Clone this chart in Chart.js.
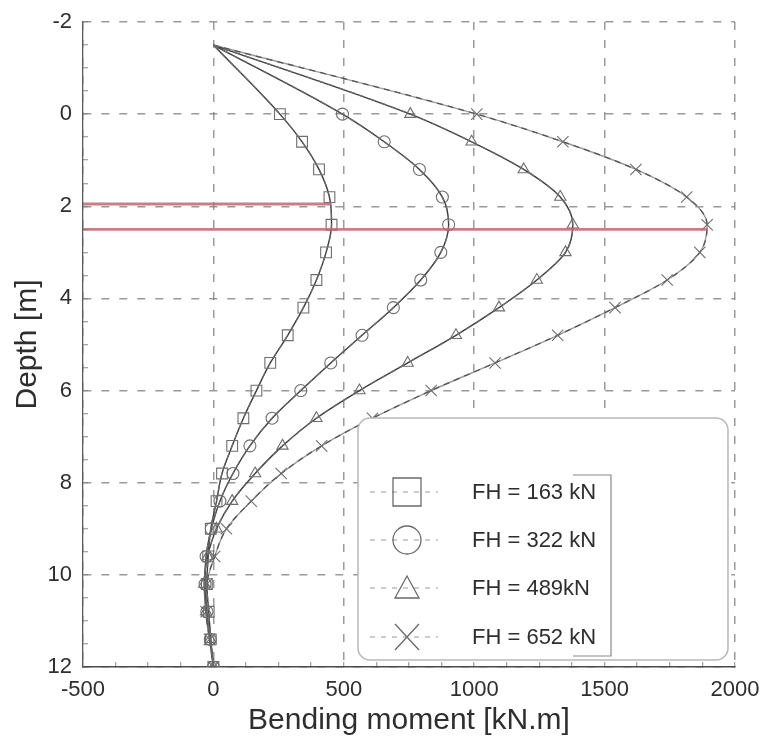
<!DOCTYPE html>
<html>
<head>
<meta charset="utf-8">
<title>Bending moment along the pile</title>
<script src="https://cdn.jsdelivr.net/npm/chart.js@4.4.1/dist/chart.umd.min.js"></script>
<style>
  html, body { margin: 0; padding: 0; background: #ffffff; }
  #wrap { width: 766px; height: 740px; }
</style>
</head>
<body>
<div id="wrap"><canvas id="chart" width="766" height="740"></canvas></div>
<script>
// Depth of each computed point [m]; the first one is the load point above ground.
const depth = [-1.5, 0, 0.6, 1.2, 1.8, 2.4, 3.0, 3.6, 4.2, 4.8, 5.4, 6.0, 6.6, 7.2, 7.8, 8.4, 9.0, 9.6, 10.2, 10.8, 11.4, 12.0];

// Bending moment [kN.m] for each horizontal load case
const moment163 = [0, 255, 340, 405, 445, 453, 432, 395, 345, 285, 218, 165, 115, 72, 33, 12, -10, -20, -25, -18, -10, 0];
const moment322 = [0, 495, 655, 790, 878, 902, 872, 795, 690, 570, 450, 335, 225, 140, 75, 25, -8, -28, -32, -25, -12, 0];
const moment489 = [0, 755, 990, 1190, 1330, 1378, 1350, 1240, 1095, 930, 745, 560, 395, 265, 160, 72, 12, -22, -35, -28, -12, 0];
const moment652 = [0, 1010, 1340, 1620, 1815, 1893, 1865, 1740, 1540, 1320, 1080, 835, 610, 415, 260, 145, 50, 5, -25, -28, -15, 0];

const seriesLabels = ['FH = 163 kN', 'FH = 322 kN', 'FH = 489kN', 'FH = 652 kN'];
const seriesMoments = [moment163, moment322, moment489, moment652];
const seriesMarkers = ['rect', 'circle', 'triangle', 'crossRot'];

// Horizontal reference lines: depth [m] and moment [kN.m] at their ends
const refDepths = [1.95, 2.5];
const refStart = [-500, -500];
const refEnd = [450, 1895];

// Axis ranges and label steps
const xRange = [-500, 2000];
const yRange = [-2, 12];
const xLabelStep = 500;
const yLabelStep = 2;
const xMinorStep = 125;
const yMinorStep = 0.5;

const FONT = '"Liberation Sans", Arial, Helvetica, sans-serif';
const TEXT = '#2e2e2e';
const GRID = 'rgba(120,120,120,0.75)';

Chart.defaults.font.family = FONT;
Chart.defaults.color = TEXT;

const toPoints = (xs, ys) => ys.map((y, i) => ({ x: xs[i], y: y }));

const datasets = [];
seriesMoments.forEach((m, i) => {
  const pts = toPoints(m, depth);
  const last = i === 3;
  // continuous curve
  datasets.push({
    label: seriesLabels[i] + ' curve',
    data: pts,
    borderColor: last ? '#9a9a9a' : '#3c3c3c',
    borderWidth: 1.4,
    pointRadius: 0,
    cubicInterpolationMode: 'monotone',
    fill: false,
    order: 2
  });
  // dashed line through the computed points with markers
  datasets.push({
    label: seriesLabels[i],
    data: pts,
    borderColor: last ? '#555555' : '#6a6a6a',
    borderWidth: 1.3,
    borderDash: [6, 5],
    cubicInterpolationMode: 'monotone',
    pointStyle: seriesMarkers[i],
    pointRadius: c => (c.dataIndex === 0 ? 0 : (seriesMarkers[i] === 'rect' ? 7.6 : seriesMarkers[i] === 'circle' ? 6 : seriesMarkers[i] === 'triangle' ? 6.5 : 8)),
    pointBorderColor: '#6e6e6e',
    pointBackgroundColor: 'rgba(0,0,0,0)',
    pointBorderWidth: 1.1,
    fill: false,
    order: 1
  });
});

refDepths.forEach((d, i) => {
  datasets.push({
    label: 'ref' + i,
    data: [{ x: refStart[i], y: d }, { x: refEnd[i], y: d }],
    borderColor: 'rgba(190,105,118,0.85)',
    borderWidth: 2.8,
    pointRadius: 0,
    tension: 0,
    fill: false,
    order: 0
  });
});

// Legend drawn inside the plot area as a rounded box
const boxLegend = {
  id: 'boxLegend',
  afterDatasetsDraw(chart) {
    const { ctx, chartArea: a } = chart;
    const left = a.left + 275, top = a.top + 396;
    const right = a.right - 7, bottom = a.bottom - 7;
    ctx.save();
    ctx.beginPath();
    ctx.roundRect(left, top, right - left, bottom - top, 12);
    ctx.fillStyle = '#ffffff';
    ctx.fill();
    ctx.strokeStyle = '#b8b8b8';
    ctx.lineWidth = 1.5;
    ctx.stroke();

    // bracket at the right of the labels
    ctx.beginPath();
    ctx.moveTo(left + 215, top + 57);
    ctx.lineTo(left + 253, top + 57);
    ctx.lineTo(left + 253, top + 238);
    ctx.lineTo(left + 215, top + 238);
    ctx.strokeStyle = '#8a8a8a';
    ctx.lineWidth = 1.2;
    ctx.stroke();

    const rowY = [74, 122, 170, 219];
    const sx = left + 49;
    seriesLabels.forEach((lab, i) => {
      const y = top + rowY[i];
      ctx.setLineDash([5, 6]);
      ctx.strokeStyle = '#9a9a9a';
      ctx.lineWidth = 1.2;
      ctx.beginPath();
      ctx.moveTo(left + 12, y);
      ctx.lineTo(left + 80, y);
      ctx.stroke();
      ctx.setLineDash([]);
      ctx.strokeStyle = '#6a6a6a';
      ctx.lineWidth = 1.3;
      ctx.beginPath();
      const s = seriesMarkers[i];
      if (s === 'rect') {
        ctx.rect(sx - 14, y - 14, 28, 28);
      } else if (s === 'circle') {
        ctx.arc(sx, y, 14, 0, Math.PI * 2);
      } else if (s === 'triangle') {
        ctx.moveTo(sx - 12, y + 10);
        ctx.lineTo(sx, y - 12);
        ctx.lineTo(sx + 12, y + 10);
        ctx.closePath();
      } else {
        ctx.moveTo(sx - 12, y - 13);
        ctx.lineTo(sx + 12, y + 13);
        ctx.moveTo(sx + 12, y - 13);
        ctx.lineTo(sx - 12, y + 13);
      }
      ctx.stroke();
      ctx.fillStyle = TEXT;
      ctx.font = '22px ' + FONT;
      ctx.textAlign = 'left';
      ctx.textBaseline = 'middle';
      ctx.fillText(lab, left + 114, y + 1);
    });
    ctx.restore();
  }
};

new Chart(document.getElementById('chart'), {
  type: 'line',
  data: { datasets },
  plugins: [boxLegend],
  options: {
    responsive: false,
    animation: false,
    devicePixelRatio: 1,
    indexAxis: 'y',
    layout: { padding: { top: 22, right: 31, left: 0, bottom: 0 } },
    plugins: { legend: { display: false }, tooltip: { enabled: false } },
    scales: {
      x: {
        type: 'linear',
        position: 'bottom',
        min: xRange[0],
        max: xRange[1],
        ticks: {
          stepSize: xMinorStep,
          autoSkip: false,
          maxRotation: 0,
          padding: 15,
          color: TEXT,
          font: { size: 22 },
          callback: v => (v % xLabelStep === 0 ? String(v) : '')
        },
        grid: {
          color: c => (c.tick && c.tick.value % xLabelStep === 0 ? GRID : 'rgba(0,0,0,0)'),
          lineWidth: 1.5,
          drawTicks: true,
          tickLength: -5,
          tickColor: '#888888',
          tickWidth: 1
        },
        border: { display: true, color: '#4a4a4a', width: 1.5, dash: [8, 10] },
        title: {
          display: true,
          text: 'Bending moment [kN.m]',
          color: TEXT,
          font: { size: 30 },
          padding: { top: 0, bottom: 1 }
        },
        afterFit: s => { s.height = 73; s.paddingLeft = 0; s.paddingRight = 10; }
      },
      y: {
        type: 'linear',
        position: 'left',
        reverse: true,
        min: yRange[0],
        max: yRange[1],
        ticks: {
          stepSize: yMinorStep,
          autoSkip: false,
          padding: 16,
          color: TEXT,
          font: { size: 22 },
          callback: v => (v % yLabelStep === 0 ? String(v) : '')
        },
        grid: {
          color: c => (c.tick && c.tick.value % yLabelStep === 0 ? GRID : 'rgba(0,0,0,0)'),
          lineWidth: 1.5,
          drawTicks: true,
          tickLength: -5,
          tickColor: '#888888',
          tickWidth: 1
        },
        border: { display: true, color: '#5a5a5a', width: 1.3, dash: [8, 10] },
        title: {
          display: true,
          text: 'Depth [m]',
          color: TEXT,
          font: { size: 30 },
          padding: { top: 10, bottom: 0 }
        },
        afterFit: s => { s.width = 83; s.paddingTop = 5; s.paddingBottom = 0; }
      }
    }
  }
});
</script>
</body>
</html>
